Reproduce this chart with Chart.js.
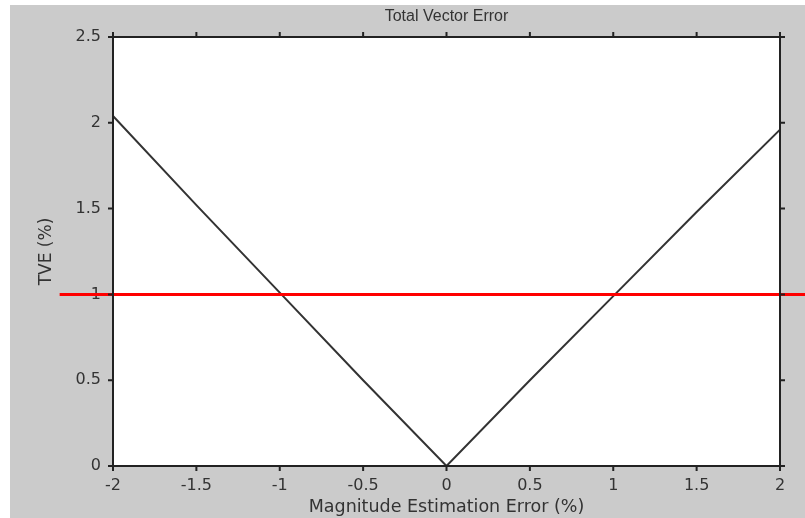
<!DOCTYPE html>
<html>
<head>
<meta charset="utf-8">
<script src="https://cdn.jsdelivr.net/npm/chart.js@4"></script>
<style>
  html, body { margin: 0; padding: 0; background: #ffffff; }
  #wrap { position: absolute; left: 10px; top: 5px; width: 795px; height: 513px; background: #cbcbcb; }
</style>
</head>
<body>
<div id="wrap"><canvas id="Plot" width="795" height="513"></canvas></div>
<script>
// values
var magErr = [-2, -1.5, -1, -0.5, 0, 0.5, 1, 1.5, 2];
var tve = [2.04, 1.52, 1.01, 0.5, 0, 0.5, 0.99, 1.48, 1.96];
var limitX = [-2.32, 2.15];
var limitY = [1, 1];
var xTicks = [-2, -1.5, -1, -0.5, 0, 0.5, 1, 1.5, 2];
var yTicks = [0, 0.5, 1, 1.5, 2, 2.5];

var txt = '#333333';
var tickFont = { family: 'DejaVu Sans', size: 16 };

// white plot area on the grey figure
var plotBg = {
  id: 'plotBg',
  beforeDatasetsDraw: function(chart) {
    var c = chart.ctx, a = chart.chartArea;
    c.save();
    c.fillStyle = '#ffffff';
    c.fillRect(a.left, a.top, a.right - a.left, a.bottom - a.top);
    c.restore();
  }
};

// MATLAB style box with outward ticks on all four sides
var boxTicks = {
  id: 'boxTicks',
  afterDatasetsDraw: function(chart) {
    var c = chart.ctx, a = chart.chartArea;
    var xs = chart.scales.x, ys = chart.scales.y;
    var len = 5;
    c.save();
    c.strokeStyle = '#222222';
    c.lineWidth = 2;
    c.strokeRect(a.left, a.top, a.right - a.left, a.bottom - a.top);
    c.beginPath();
    xTicks.forEach(function(v) {
      var px = xs.getPixelForValue(v);
      c.moveTo(px, a.bottom); c.lineTo(px, a.bottom + len);
      c.moveTo(px, a.top); c.lineTo(px, a.top - len);
    });
    yTicks.forEach(function(v) {
      var py = ys.getPixelForValue(v);
      c.moveTo(a.left, py); c.lineTo(a.left - len, py);
      c.moveTo(a.right, py); c.lineTo(a.right + len, py);
    });
    c.stroke();
    c.restore();
  }
};

var ctx = document.getElementById('Plot').getContext('2d');

var myChart = new Chart(ctx, {
  type: 'line',
  data: {
    datasets: [{
      data: magErr.map(function(x, i) { return { x: x, y: tve[i] }; }),
      borderColor: '#333333',
      borderWidth: 2,
      pointRadius: 0,
      tension: 0,
      order: 2
    }, {
      data: limitX.map(function(x, i) { return { x: x, y: limitY[i] }; }),
      borderColor: '#ff0000',
      borderWidth: 3,
      pointRadius: 0,
      clip: false,
      order: 1
    }]
  },
  options: {
    responsive: false,
    animation: false,
    layout: { padding: { left: 0, right: 25, top: 0, bottom: 0 } },
    plugins: {
      legend: { display: false },
      tooltip: { enabled: false },
      title: { display: false }
    },
    scales: {
      x: {
        type: 'linear',
        min: -2, max: 2,
        afterBuildTicks: function(s) { s.ticks = xTicks.map(function(v) { return { value: v }; }); },
        afterFit: function(s) { s.height = 52; },
        grid: { display: false, drawTicks: false },
        border: { display: false },
        ticks: { color: txt, font: tickFont, padding: 10, maxRotation: 0,
                 callback: function(v) { return String(v); } },
        title: {
          display: true,
          text: 'Magnitude Estimation Error (%)',
          color: txt,
          font: { family: 'DejaVu Sans', size: 17.5 },
          padding: { top: 0, bottom: 0 }
        }
      },
      // top axis only carries the plot title, centred over the axes
      x2: {
        type: 'linear',
        position: 'top',
        min: -2, max: 2,
        afterFit: function(s) { s.height = 32; },
        grid: { display: false, drawTicks: false },
        border: { display: false },
        ticks: { display: false },
        title: {
          display: true,
          text: 'Total Vector Error',
          color: txt,
          font: { family: "'Liberation Sans', Arial", size: 16 },
          padding: { top: 2, bottom: 0 }
        }
      },
      y: {
        type: 'linear',
        min: 0, max: 2.5,
        afterBuildTicks: function(s) { s.ticks = yTicks.map(function(v) { return { value: v }; }); },
        afterFit: function(s) { s.width = 103; },
        grid: { display: false, drawTicks: false },
        border: { display: false },
        ticks: { color: txt, font: tickFont, padding: 12,
                 callback: function(v) { return String(v); } },
        title: {
          display: true,
          text: 'TVE (%)',
          color: txt,
          font: { family: 'DejaVu Sans', size: 17 },
          padding: { top: 26, bottom: 0 }
        }
      }
    }
  },
  plugins: [plotBg, boxTicks]
});
</script>
</body>
</html>
